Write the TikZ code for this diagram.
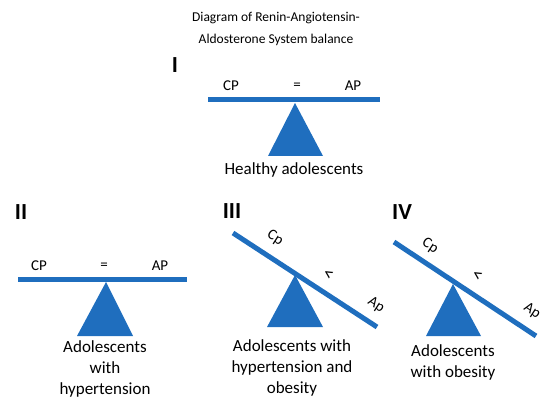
\documentclass[tikz,border=0pt]{standalone}
\usepackage{fontspec}
\setmainfont{Carlito}
\definecolor{barblue}{RGB}{31,110,190}
\tikzset{
  bar/.style={line width=5pt, draw=barblue, line cap=butt},
  fulcrum/.style={fill=barblue, draw=none},
  lbl/.style={inner sep=0pt, font=\fontsize{15}{18}\selectfont},
  ltlbl/.style={inner sep=0pt, font=\fontsize{19}{22}\selectfont},
  caption/.style={inner sep=0pt, align=center, font=\fontsize{17}{21}\selectfont},
  numeral/.style={inner sep=0pt, font=\fontsize{23}{26}\selectfont\bfseries},
}
\begin{document}
\begin{tikzpicture}[x=1pt,y=-1pt]
\path[use as bounding box] (0,0) rectangle (550,412);
% title
\node[inner sep=0pt, align=center, font=\fontsize{13.5}{22}\selectfont] (title) at (276,29) {Diagram of Renin-Angiotensin-\\Aldosterone System balance};
% Panel I
\node[numeral] (n1) at (175,65) {I};
\coordinate (b1l) at (208,100);
\coordinate (b1r) at (380,100);
\draw[bar] (b1l) -- (b1r);
\coordinate (t1a) at (295,103);
\coordinate (t1l) at (268,156);
\coordinate (t1r) at (323,156);
\path[fulcrum] (t1a) -- (t1r) -- (t1l) -- cycle;
\node[lbl] (cp1) at (231,86) {CP};
\node[lbl] (eq1) at (297,86) {=};
\node[lbl] (ap1) at (353,86) {AP};
\node[caption] (c1) at (294,170) {Healthy adolescents};
% Panel II
\node[numeral] (n2) at (21,212) {II};
\coordinate (b2l) at (18,279);
\coordinate (b2r) at (187,279);
\draw[bar] (b2l) -- (b2r);
\coordinate (t2a) at (106,282);
\coordinate (t2l) at (77,336);
\coordinate (t2r) at (133,336);
\path[fulcrum] (t2a) -- (t2r) -- (t2l) -- cycle;
\node[lbl] (cp2) at (39,266) {CP};
\node[lbl] (eq2) at (104,266) {=};
\node[lbl] (ap2) at (160,266) {AP};
\node[caption] (c2) at (105,369) {Adolescents\\with\\hypertension};
% Panel III
\node[numeral] (n3) at (232,211) {III};
\coordinate (b3l) at (233,233);
\coordinate (b3r) at (377,327);
\draw[bar] (b3l) -- (b3r);
\coordinate (t3a) at (295,275);
\coordinate (t3l) at (267,327);
\coordinate (t3r) at (323,327);
\path[fulcrum] (t3a) -- (t3r) -- (t3l) -- cycle;
\node[lbl, rotate=-33] (cp3) at (275,238) {Cp};
\node[ltlbl, rotate=-33] (lt3) at (328,275) {<};
\node[lbl, rotate=-33] (ap3) at (376,305) {Ap};
\node[caption] (c3) at (292,368) {Adolescents with\\hypertension and\\obesity};
% Panel IV
\node[numeral] (n4) at (402,212) {IV};
\coordinate (b4l) at (394,242);
\coordinate (b4r) at (536,336);
\draw[bar] (b4l) -- (b4r);
\coordinate (t4a) at (453,284);
\coordinate (t4l) at (426,336);
\coordinate (t4r) at (481,336);
\path[fulcrum] (t4a) -- (t4r) -- (t4l) -- cycle;
\node[lbl, rotate=-33] (cp4) at (430,246) {Cp};
\node[ltlbl, rotate=-33] (lt4) at (477,276) {<};
\node[lbl, rotate=-33] (ap4) at (532,311) {Ap};
\node[caption] (c4) at (453,362) {Adolescents\\with obesity};
\end{tikzpicture}
\end{document}
